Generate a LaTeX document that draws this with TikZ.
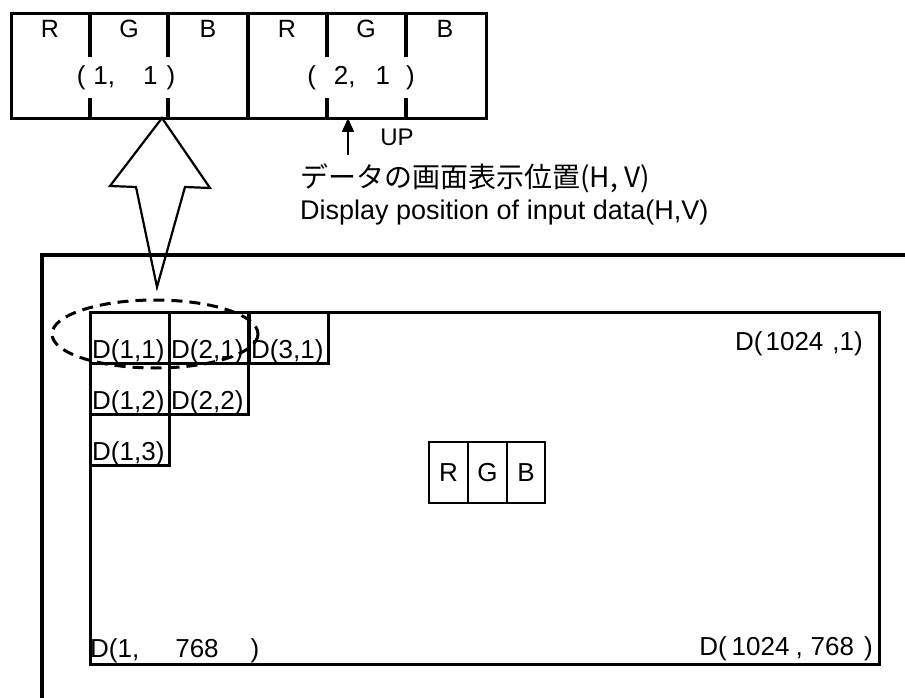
\documentclass[tikz,border=0pt]{standalone}
\usepackage{fontspec}
\setmainfont{Liberation Sans}
\newfontfamily\jpfont{Noto Sans CJK JP}
\usetikzlibrary{arrows.meta}
\begin{document}
\begin{tikzpicture}[x=1pt,y=-1pt,
  boxline/.style={line width=3.3pt},
  frameline/.style={line width=4.3pt, line join=miter},
  cellbox/.style={draw, line width=3.3pt, rectangle, minimum width=79pt, minimum height=51pt, inner sep=0pt, anchor=north west},
  celltext/.style={inner sep=0pt, anchor=base west, font=\fontsize{26}{30}\selectfont},
  toptext/.style={inner sep=0pt, font=\fontsize{25}{29}\selectfont},
  numtext/.style={inner sep=0pt, font=\fontsize{26}{30}\selectfont},
  hollowarrow/.style={line width=2.2pt, line join=miter},
  dashedellipse/.style={line width=3pt, dash pattern=on 11pt off 7pt}
]
\useasboundingbox (0,0) rectangle (905,698);

% ---------- top pixel-data box ----------
\node[draw, boxline, rectangle, inner sep=0pt, minimum width=475pt, minimum height=105pt, anchor=north west] (topbox) at (10,12) {};
\draw[boxline] (90,12) -- (90,57) (90,98) -- (90,117);
\draw[boxline] (168,12) -- (168,57) (168,98) -- (168,117);
\draw[boxline] (248,12) -- (248,117);
\draw[boxline] (327,12) -- (327,57) (327,98) -- (327,117);
\draw[boxline] (406,12) -- (406,57) (406,98) -- (406,117);

\node[toptext] (r1) at (50,29) {R};
\node[toptext] (g1) at (129,29) {G};
\node[toptext] (b1) at (208,29) {B};
\node[toptext] (r2) at (287,29) {R};
\node[toptext] (g2) at (366,29) {G};
\node[toptext] (b2) at (445,29) {B};
\node[numtext] (p11) at (126,78) {(\hspace{8pt}1,\hspace{28pt}1\hspace{9pt})};
\node[numtext] (p21) at (361,78) {(\hspace{18pt}2,\hspace{20pt}1\hspace{16pt})};

% ---------- UP arrow and captions ----------
\coordinate (uptail) at (348,155);
\coordinate (uphead) at (348,118);
\draw[line width=1.5pt, -{Triangle[length=14pt,width=12pt]}] (uptail) -- (uphead);
\node[toptext, font=\fontsize{24}{28}\selectfont] (up) at (397,137) {UP};
\node[inner sep=0pt, anchor=west, font=\jpfont\fontsize{28}{32}\selectfont] (jp) at (300,178) {データの画面表示位置(H, V)};
\node[inner sep=0pt, anchor=west, font=\fontsize{27}{31}\selectfont] (en) at (300,213) {Display position of input data(H,V)};

% ---------- outer frame (cut off) ----------
\draw[frameline] (905,255) -- (42,255) -- (42,698);

% ---------- hollow double arrow ----------
\draw[hollowarrow] (162,118) -- (110,186) -- (136,187) -- (157,287) -- (185,187) -- (210,188) -- cycle;

% ---------- screen ----------
\node[draw, boxline, rectangle, inner sep=0pt, minimum width=789pt, minimum height=352pt, anchor=north west] (screen) at (89,311) {};

\node[cellbox] (d11) at (89,311) {};
\node[cellbox] (d21) at (168,311) {};
\node[cellbox] (d31) at (248,311) {};
\node[cellbox] (d12) at (89,362) {};
\node[cellbox] (d22) at (168,362) {};
\node[cellbox] (d13) at (89,413) {};

\node[celltext] at ([shift={(3pt,7pt)}]d11.south west) {D(1,1)};
\node[celltext] at ([shift={(3pt,7pt)}]d21.south west) {D(2,1)};
\node[celltext] at ([shift={(3pt,7pt)}]d31.south west) {D(3,1)};
\node[celltext] at ([shift={(3pt,7pt)}]d12.south west) {D(1,2)};
\node[celltext] at ([shift={(3pt,7pt)}]d22.south west) {D(2,2)};
\node[celltext] at ([shift={(3pt,7pt)}]d13.south west) {D(1,3)};

\node[celltext, anchor=base east] (dtr) at (863,350) {D(\hspace{3pt}1024\hspace{9pt},1)};
\node[celltext] (dbl) at (90,657) {D(1,\hspace{36pt}768\hspace{32pt})};
\node[celltext, anchor=base east] (dbr) at (873,655) {D(\hspace{5pt}1024\hspace{6pt},\hspace{8pt}768\hspace{10pt})};

% ---------- RGB sub-pixel box ----------
\node[draw, line width=2.2pt, rectangle, inner sep=0pt, minimum width=39pt, minimum height=61pt, anchor=north west, font=\fontsize{26}{30}\selectfont] (sr) at (428,441) {R};
\node[draw, line width=2.2pt, rectangle, inner sep=0pt, minimum width=39pt, minimum height=61pt, anchor=north west, font=\fontsize{26}{30}\selectfont] (sg) at (467,441) {G};
\node[draw, line width=2.2pt, rectangle, inner sep=0pt, minimum width=38pt, minimum height=61pt, anchor=north west, font=\fontsize{26}{30}\selectfont] (sb) at (506,441) {B};

% ---------- dashed ellipse ----------
\draw[dashedellipse] (155,334) ellipse [x radius=103, y radius=34];
\end{tikzpicture}
\end{document}
